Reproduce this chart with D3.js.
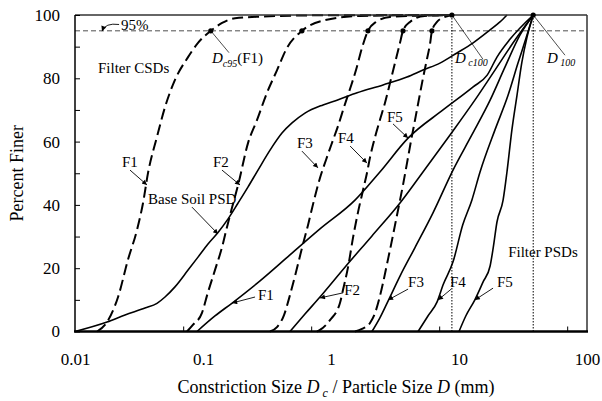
<!DOCTYPE html>
<html><head><meta charset="utf-8">
<script src="https://cdn.jsdelivr.net/npm/d3@7/dist/d3.min.js"></script>
<style>
body{margin:0;background:#fff}
svg{display:block;font-family:"Liberation Serif","Times New Roman",Times,serif}
</style></head><body>
<svg id="chart" width="602" height="401"></svg>
<script>
// ---------- data ----------
const xTicks = [0.01, 0.1, 1, 10, 100];
const xMinorTicks = [0.07, 0.7, 7, 70];
const yTicks = [0, 20, 40, 60, 80, 100];
const yMinorTicks = [10, 30, 50, 70, 90];

// Filter constriction size distributions (dashed)  [D (mm), % finer]
const csdF1 = [[0.0149,0],[0.0178,3.0],[0.0217,10.9],[0.0259,22.6],[0.0305,32.1],[0.034,40.6],[0.0372,50.1],[0.0437,61.5],[0.0505,70.9],[0.0604,79.5],[0.0764,86.7],[0.0914,91.2],[0.115,95],[0.141,97.5],[0.178,99],[0.289,99.5],[0.82,99.9],[8.8,100]];
const csdF2 = [[0.075,0],[0.083,2],[0.098,5.8],[0.109,12.2],[0.124,19.4],[0.141,26.7],[0.154,33],[0.169,39.3],[0.188,46.3],[0.225,59.6],[0.264,66.8],[0.316,75.4],[0.379,82.6],[0.453,89.6],[0.593,95],[0.898,98.4],[1.69,99.7],[8.8,100]];
const csdF3 = [[0.334,0],[0.3785,1.4],[0.4295,5.2],[0.478,11.5],[0.533,18.8],[0.5935,26.4],[0.661,33.6],[0.736,41.4],[0.82,48.5],[0.914,54.2],[1.018,59.6],[1.134,64.9],[1.264,70.9],[1.407,76.6],[1.568,82.6],[1.746,89.6],[1.945,95],[2.247,97.8],[2.89,99.4],[4.96,99.8],[8.8,100]];
const csdF4 = [[0.778,0],[0.82,0.5],[0.982,3.6],[1.175,9],[1.24,13.1],[1.36,20.4],[1.49,29.9],[1.62,37.4],[1.78,44.7],[1.91,50.1],[2.02,55.1],[2.21,61.5],[2.41,66.8],[2.64,72.2],[2.89,78.5],[3.16,84.8],[3.46,91.2],[3.65,95],[4.14,97.8],[5.38,99.7],[8.8,100]];
const csdF5 = [[1.54,0],[1.746,0.8],[2.017,2.7],[2.207,5.8],[2.371,10],[2.548,15.3],[2.738,21.3],[2.942,27.3],[3.162,33.6],[3.398,39.9],[3.652,46.3],[3.924,53.2],[4.217,60.2],[4.532,66.8],[4.87,73.5],[5.234,80.1],[5.623,86.1],[5.933,90.8],[6.15,95],[6.733,97.8],[7.776,99.4],[8.8,100]];

// Particle size distributions (solid)
const psdBase = [[0.01,0],[0.0178,3],[0.0246,5.2],[0.0352,7.4],[0.0437,8.9],[0.0505,10.9],[0.0604,14.1],[0.0764,19.4],[0.0914,23.5],[0.109,27.6],[0.131,31.3],[0.157,35.6],[0.188,40.6],[0.225,45.7],[0.269,51],[0.334,57.3],[0.414,62.7],[0.496,65.9],[0.626,69.0],[0.866,71.6],[1.114,73.1],[1.6,75.4],[2.55,77.9],[3.92,80.4],[5.23,82.6],[7.1,84.8],[9.65,88],[12.9,91.2],[17.5,95.3],[20.9,97.8],[23.7,100]];
const psdF1 = [[0.0898,0],[0.124,4.9],[0.169,9.0],[0.279,16],[0.478,24.2],[0.82,32.4],[1.54,41.5],[2.41,50.4],[4.0,61.1],[7.5,70],[12.9,77.3],[16.6,81],[19.8,86.7],[25,92.3],[38,100]];
const psdF2 = [[0.478,0],[0.626,5.5],[0.82,10.9],[1.29,20.4],[2.09,30.2],[3.46,40.6],[5.23,50.4],[8.51,62.1],[13.3,73.1],[19.1,82.6],[27.4,92.1],[38,100]];
const psdF3 = [[2.09,0],[2.41,4.3],[2.79,9.6],[3.46,17.5],[4.53,26.5],[6.25,37.4],[8.98,51],[12.6,62.1],[17.5,73.1],[22.9,83.6],[30,93.7],[38,100]];
const psdF4 = [[4.79,0],[5.72,4.9],[6.73,9.3],[7.5,14.7],[8.98,22],[10.7,33.7],[12.6,41.5],[14.6,50.4],[19.1,63.7],[24.2,74.7],[28.9,84.8],[33.4,92.7],[38,100]];
const psdF5 = [[10,0],[11.3,4.9],[13.3,10],[15.4,15.6],[17.5,20.7],[18.5,26.4],[19.8,34.6],[22.1,41.5],[23.7,50.4],[25.9,63.7],[28.4,74.7],[31,85.1],[34,93],[38,100]];

const dc95Points = [[0.115,95],[0.593,95],[1.945,95],[3.65,95],[6.15,95]];
const dc100 = 8.8;
const d100 = 38;
const linePercent = 95;

// annotation labels: text anchor [D,P], arrow from [D,P] to [D,P]
const arrowLabels = [
  {t:"F1", at:[0.0233,52],   from:[0.0269,51.0], to:[0.0365,46.3]},
  {t:"F2", at:[0.1197,52],   from:[0.1407,51.0], to:[0.1946,46.3]},
  {t:"F3", at:[0.542,58],    from:[0.593,57.0],  to:[0.791,51.7]},
  {t:"F4", at:[1.135,59.6],  from:[1.41,58.6],   to:[1.91,53.2]},
  {t:"F5", at:[2.74,66.2],   from:[3.05,65.6],   to:[4.0,61.1]},
  {t:"Base Soil PSD", at:[0.0372,40.3], from:[0.082,39.3], to:[0.131,30.8]},
  {t:"F1", at:[0.269,10.0],  from:[0.255,10.9],  to:[0.169,9.0]},
  {t:"F2", at:[1.27,11.5],   from:[1.24,12.2],   to:[0.82,10.6]},
  {t:"F3", at:[4.0,14.1],    from:[4.0,13.4],    to:[2.79,9.95]},
  {t:"F4", at:[8.5,14.1],    from:[8.7,13.4],    to:[6.86,9.95]},
  {t:"F5", at:[19.8,14.1],   from:[18.45,13.7],  to:[13.3,9.95]}
];
const plainLabels = [
  {t:"Filter CSDs", at:[0.01513,81.7]},
  {t:"Filter PSDs", at:[24.2,23.5]}
];

// ---------- drawing ----------
const svg = d3.select('#chart');
const x = d3.scaleLog().domain([0.01,100]).range([75,587]);
const y = d3.scaleLinear().domain([0,100]).range([331.5,15]);
const line = d3.line().x(d=>x(d[0])).y(d=>y(d[1])).curve(d3.curveMonotoneX);

const defs = svg.append('defs');
defs.append('marker').attr('id','ah').attr('viewBox','0 0 10 10')
  .attr('refX',10).attr('refY',5).attr('markerWidth',7).attr('markerHeight',5)
  .attr('markerUnits','userSpaceOnUse').attr('orient','auto')
  .append('path').attr('d','M0,0L10,5L0,10z').attr('fill','#000');

const g = svg.append('g');

// 95% line
g.append('line').attr('x1',x(0.01)).attr('x2',x(100)).attr('y1',y(linePercent)).attr('y2',y(linePercent))
  .attr('stroke','#222').attr('stroke-width',0.8).attr('stroke-dasharray','5,3');
// dotted verticals
[dc100,d100].forEach(v=>{
  g.append('line').attr('x1',x(v)).attr('x2',x(v)).attr('y1',y(100)).attr('y2',y(0))
   .attr('stroke','#000').attr('stroke-width',1).attr('stroke-dasharray','1.5,1.5');
});

// curves
[psdBase,psdF1,psdF2,psdF3,psdF4,psdF5].forEach(s=>{
  g.append('path').attr('d',line(s)).attr('fill','none').attr('stroke','#000').attr('stroke-width',1.6);
});
[csdF1,csdF2,csdF3,csdF4,csdF5].forEach(s=>{
  g.append('path').attr('d',line(s)).attr('fill','none').attr('stroke','#000').attr('stroke-width',2).attr('stroke-dasharray','11,5');
});

// frame
g.append('line').attr('x1',x(0.01)).attr('x2',x(100)).attr('y1',y(100)).attr('y2',y(100)).attr('stroke','#333').attr('stroke-width',1.5);
g.append('line').attr('x1',x(100)).attr('x2',x(100)).attr('y1',y(100)).attr('y2',y(0)).attr('stroke','#333').attr('stroke-width',1.5);
g.append('line').attr('x1',x(0.01)).attr('x2',x(0.01)).attr('y1',y(100)).attr('y2',y(0)).attr('stroke','#000').attr('stroke-width',1.5);
g.append('line').attr('x1',x(0.01)-1).attr('x2',x(100)+1).attr('y1',y(0)).attr('y2',y(0)).attr('stroke','#000').attr('stroke-width',2.6);

// dots
dc95Points.concat([[dc100,100],[d100,100]]).forEach(p=>{
  g.append('circle').attr('cx',x(p[0])).attr('cy',y(p[1])).attr('r',2.6).attr('fill','#000');
});

// axes
const fs = 17;
const xa = svg.append('g').attr('transform',`translate(0,${y(0)})`)
  .call(d3.axisBottom(x).tickValues(xTicks).tickSize(0).tickPadding(21).tickFormat(d=>String(d)));
const xm = svg.append('g').attr('transform',`translate(0,${y(0)})`)
  .call(d3.axisBottom(x).tickValues(xMinorTicks).tickSize(-5).tickFormat(''));
const ya = svg.append('g').attr('transform',`translate(${x(0.01)},0)`)
  .call(d3.axisLeft(y).tickValues(yTicks).tickSize(-5).tickPadding(15));
const ym = svg.append('g').attr('transform',`translate(${x(0.01)},0)`)
  .call(d3.axisLeft(y).tickValues(yMinorTicks).tickSize(-5).tickFormat(''));
[xa,xm,ya,ym].forEach(a=>{
  a.select('.domain').remove();
  a.selectAll('text').attr('font-size',fs).attr('font-family','"Liberation Serif",serif').attr('fill','#000');
  a.selectAll('line').attr('stroke','#000').attr('stroke-width',1);
});

// axis titles
svg.append('text').attr('transform',`translate(17,${(y(0)+y(100))/2}) rotate(-90)`)
  .attr('text-anchor','middle').attr('dominant-baseline','central').attr('font-size',18).text('Percent Finer');
const xt = svg.append('text').attr('x',(x(0.01)+x(100))/2+5).attr('y',393).attr('text-anchor','middle').attr('font-size',18);
xt.append('tspan').text('Constriction Size ');
xt.append('tspan').attr('font-style','italic').text('D');
xt.append('tspan').attr('font-style','italic').attr('font-size',12).attr('dy',4).text(' c');
xt.append('tspan').attr('dy',-4).text(' / Particle Size ');
xt.append('tspan').attr('font-style','italic').text('D');
xt.append('tspan').text('  (mm)');

// annotations
const lfs = 15;
arrowLabels.forEach(a=>{
  g.append('line').attr('x1',x(a.from[0])).attr('y1',y(a.from[1])).attr('x2',x(a.to[0])).attr('y2',y(a.to[1]))
    .attr('stroke','#000').attr('stroke-width',0.9).attr('marker-end','url(#ah)');
  g.append('text').attr('x',x(a.at[0])).attr('y',y(a.at[1])).attr('font-size',lfs).text(a.t);
});
plainLabels.forEach(a=>{
  g.append('text').attr('x',x(a.at[0])).attr('y',y(a.at[1])).attr('font-size',lfs).text(a.t);
});

// 95% label with curved arrow
const pctAt = [0.0229,95.2];
g.append('text').attr('x',x(pctAt[0])).attr('y',y(pctAt[1])).attr('font-size',lfs).text('95%');
const cp = d3.path();
cp.moveTo(x(0.0221),y(97.0));
cp.quadraticCurveTo(x(0.0172),y(97.6),x(0.01626),y(94.9));
g.append('path').attr('d',cp.toString()).attr('fill','none').attr('stroke','#000').attr('stroke-width',0.9).attr('marker-end','url(#ah)');

// D_c95 (F1)
g.append('line').attr('x1',x(dc95Points[0][0])).attr('y1',y(95)).attr('x2',x(0.1596)).attr('y2',y(88.1)).attr('stroke','#000').attr('stroke-width',0.7);
const t1 = g.append('text').attr('x',x(0.1175)).attr('y',y(84.8)).attr('font-size',lfs);
t1.append('tspan').attr('font-style','italic').text('D');
t1.append('tspan').attr('font-style','italic').attr('font-size',10).attr('dy',4).text('c95');
t1.append('tspan').attr('dy',-4).text('(F1)');

// D_c100
g.append('line').attr('x1',x(dc100)).attr('y1',y(100)).attr('x2',x(15.4)).attr('y2',y(86.0)).attr('stroke','#000').attr('stroke-width',0.7);
const t2 = g.append('text').attr('x',x(9.31)).attr('y',y(84.8)).attr('font-size',lfs);
t2.append('tspan').attr('font-style','italic').text('D');
t2.append('tspan').attr('font-style','italic').attr('font-size',10).attr('dy',3).text(' c100');

// D_100
g.append('line').attr('x1',x(d100)).attr('y1',y(100)).attr('x2',x(67.3)).attr('y2',y(87.3)).attr('stroke','#000').attr('stroke-width',0.7);
const t3 = g.append('text').attr('x',x(48.7)).attr('y',y(84.8)).attr('font-size',lfs);
t3.append('tspan').attr('font-style','italic').text('D');
t3.append('tspan').attr('font-style','italic').attr('font-size',10).attr('dy',3).text(' 100');
</script>
</body></html>
